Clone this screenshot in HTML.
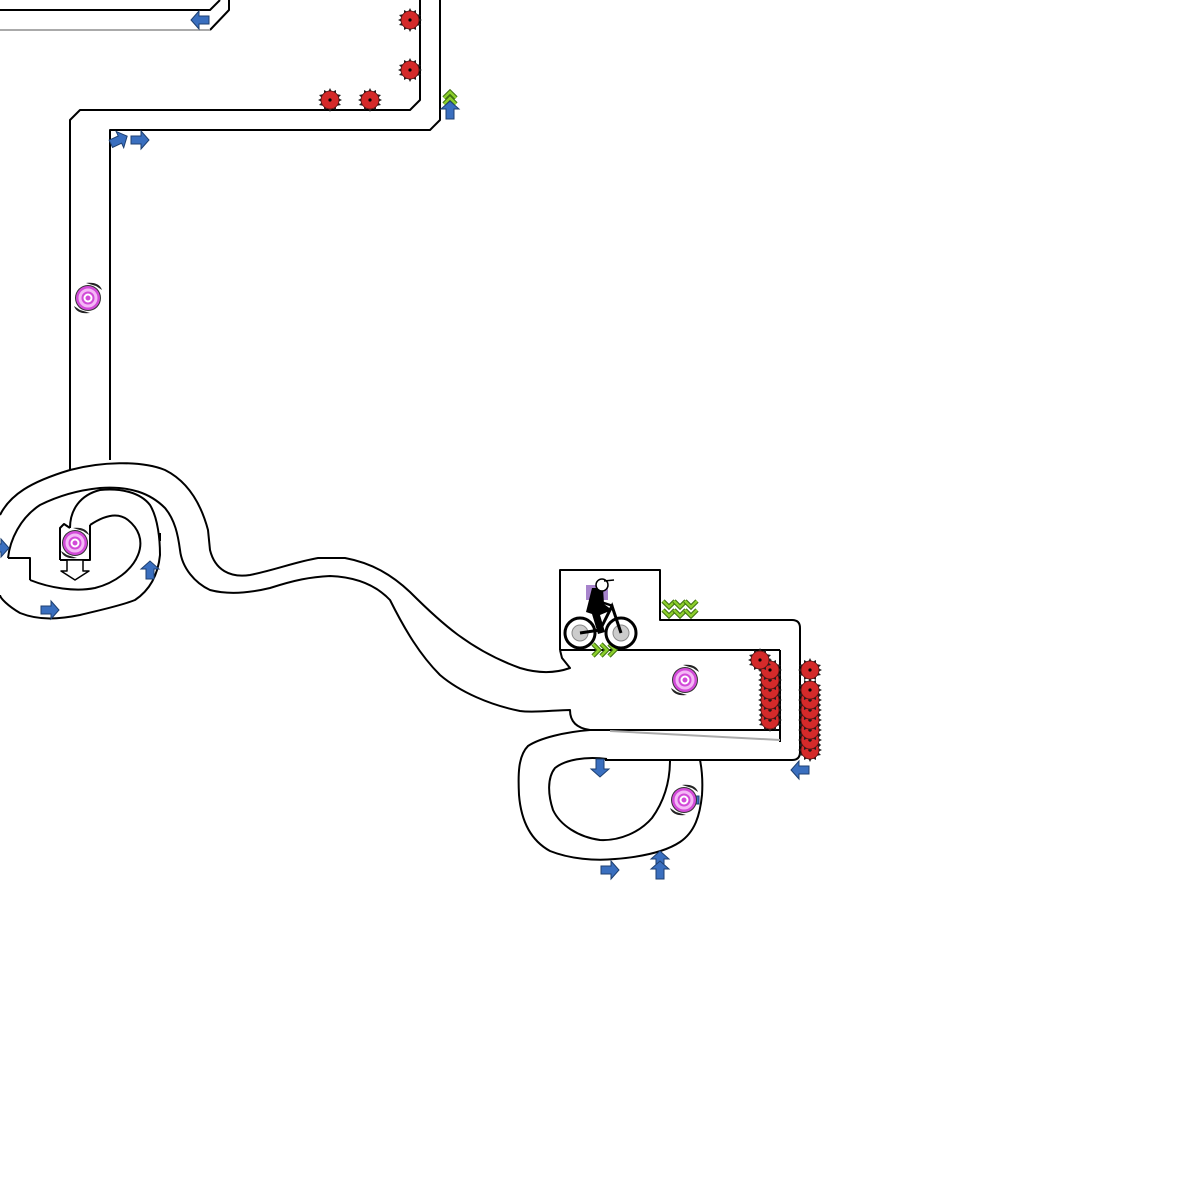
<!DOCTYPE html>
<html><head><meta charset="utf-8"><style>html,body{margin:0;padding:0;background:#fff}svg{display:block}</style></head>
<body>
<svg width="1200" height="1200" viewBox="0 0 1200 1200" xmlns="http://www.w3.org/2000/svg">
<defs>
  <g id="mine">
    <polygon points="0,-12 2,-8 6,-10 6,-6 11,-5 8,-2 12,0 8,2 11,5 6,6 6,10 2,8 0,12 -2,8 -6,10 -6,6 -11,5 -8,2 -12,0 -8,-2 -11,-5 -6,-6 -6,-10 -2,-8" fill="#222"/>
    <circle r="9" fill="#d42a2a" stroke="#511" stroke-width="0.8"/>
    <circle r="1.6" fill="#000"/>
  </g>
  <g id="arr">
    <polygon points="-9,-4 1,-4 1,-9 9,0 1,9 1,4 -9,4" fill="#3a6fbf" stroke="#1d3f70" stroke-width="1"/>
  </g>
  <g id="portal">
    <path d="M-2,-15 C6,-16 12,-14 14,-8 L8,-12 Z" fill="#222"/>
    <path d="M2,15 C-6,16 -12,14 -14,8 L-8,12 Z" fill="#222"/>
    <circle r="13" fill="#333"/>
    <circle r="12" fill="#d24ad8"/>
    <circle r="8" fill="none" stroke="#f4b8f6" stroke-width="3"/>
    <circle r="3.5" fill="none" stroke="#fff" stroke-width="2"/>
  </g>
  <g id="chev">
    <polyline points="-6,-3 0,3 6,-3" fill="none" stroke="#3b6d10" stroke-width="4.5"/>
    <polyline points="-6,-3 0,3 6,-3" fill="none" stroke="#8ccf2c" stroke-width="2.5"/>
  </g>
</defs>
<g fill="none" stroke="#000" stroke-width="2" stroke-linejoin="round">
  <polyline points="0,10 210,10 220,0"/>
  <polyline points="229,0 229,10 210,30" />
  <line x1="0" y1="30" x2="210" y2="30" stroke="#aaa"/>
  <polyline points="420,0 420,100 410,110 80,110 70,120 70,470"/>
  <polyline points="440,0 440,120 430,130 110,130 110,460"/>
  <path d="M0,515 C10,495 30,482 70,470 C100,462 140,460 165,470 C185,480 200,500 208,530 L210,550 C215,570 230,578 250,575 C275,570 295,562 318,558 L345,558 C372,563 392,575 410,592 C440,622 470,650 520,668 C540,674 556,673 570,668 L562,658 L560,650"/>
  <path d="M8,558 C10,540 20,518 40,505 C60,495 80,490 100,488 C130,486 150,493 165,508 C175,520 178,535 180,550 C182,568 195,583 210,590 C225,594 245,594 270,588 C295,580 310,577 330,576 C355,577 375,584 390,600 C405,630 420,655 440,675 C460,692 490,705 520,711 C535,713 555,710 570,710 C570,720 575,728 590,730 L780,730"/>
  <polyline points="8,558 30,558 30,580"/>
  <path d="M30,580 C50,588 75,592 95,588 C115,583 132,570 138,555 C144,540 138,528 128,520 C118,512 105,515 90,525"/>
  <path d="M70,528 C70,510 80,495 100,490 C120,488 140,492 150,505 C158,518 160,540 160,555 C158,575 150,590 135,600 C120,606 100,610 80,615 C60,619 40,621 20,613 C8,606 0,598 0,595"/>
  <line x1="160" y1="533" x2="160" y2="541"/>
  <polyline points="60,560 60,528 64,524 70,528"/>
  <polyline points="90,525 90,560 60,560"/>
  <polygon points="67,560 67,571 61,571 75,580 89,571 83,571 83,560" fill="#fff" stroke-width="1.5"/>
  <path d="M560,650 L560,570 L660,570 L660,620 L792,620 Q800,620 800,628 L800,752 Q800,760 792,760 L605,760"/>
  <line x1="560" y1="650" x2="780" y2="650"/>
  <line x1="780" y1="650" x2="780" y2="742"/>
  <line x1="610" y1="731" x2="780" y2="740" stroke="#aaa"/>
  <path d="M590,730 C565,732 540,738 528,746 C518,756 518,775 519,795 C521,820 530,840 550,851 C570,859 595,861 615,859 C640,857 665,852 680,842 C695,832 700,815 702,795 C703,780 702,770 700,760"/>
  <path d="M607,759 C585,756 565,760 555,768 C547,778 548,795 553,810 C560,825 578,837 600,840 C620,841 640,832 652,818 C665,800 670,780 670,760"/>
</g>
<use href="#mine" x="410" y="20"/><use href="#mine" x="410" y="70"/>
<use href="#mine" x="330" y="100"/><use href="#mine" x="370" y="100"/>
<use href="#mine" x="770" y="720"/><use href="#mine" x="770" y="710"/><use href="#mine" x="770" y="700"/>
<use href="#mine" x="770" y="690"/><use href="#mine" x="770" y="680"/><use href="#mine" x="770" y="670"/>
<use href="#mine" x="760" y="660"/>
<use href="#mine" x="810" y="750"/><use href="#mine" x="810" y="740"/><use href="#mine" x="810" y="730"/>
<use href="#mine" x="810" y="720"/><use href="#mine" x="810" y="710"/><use href="#mine" x="810" y="700"/>
<use href="#mine" x="810" y="690"/><use href="#mine" x="810" y="670"/>
<use href="#arr" transform="translate(200,20) rotate(180)"/>
<use href="#chev" transform="translate(450,95) rotate(180)"/>
<use href="#chev" transform="translate(450,101) rotate(180)"/>
<use href="#arr" transform="translate(450,110) rotate(-90)"/>
<use href="#arr" transform="translate(119,140) rotate(-25)"/>
<use href="#arr" transform="translate(140,140)"/>
<use href="#arr" transform="translate(0,548)"/>
<use href="#arr" transform="translate(50,610)"/>
<use href="#arr" transform="translate(150,570) rotate(-90)"/>
<use href="#arr" transform="translate(600,768) rotate(90)"/>
<use href="#arr" transform="translate(610,870)"/>
<use href="#arr" transform="translate(660,860) rotate(-90)"/>
<use href="#arr" transform="translate(660,870) rotate(-90)"/>
<use href="#arr" transform="translate(800,770) rotate(180)"/>
<rect x="694" y="796" width="5" height="8" fill="#3a6fbf" stroke="#1d3f70"/>
<use href="#portal" x="88" y="298"/><use href="#portal" x="75" y="543"/>
<use href="#portal" x="685" y="680"/><use href="#portal" x="684" y="800"/>
<use href="#chev" x="669" y="604"/><use href="#chev" x="680" y="604"/><use href="#chev" x="691" y="604"/>
<use href="#chev" x="669" y="613"/><use href="#chev" x="680" y="613"/><use href="#chev" x="691" y="613"/>
<use href="#chev" transform="translate(596,650) rotate(-90)"/>
<use href="#chev" transform="translate(604,650) rotate(-90)"/>
<use href="#chev" transform="translate(612,650) rotate(-90)"/>
<g>
  <rect x="586" y="585" width="22" height="15" fill="#a784cc"/>
  <circle cx="580" cy="633" r="15" fill="#fff" stroke="#000" stroke-width="3"/>
  <circle cx="580" cy="633" r="8" fill="#ccc" stroke="#888"/>
  <circle cx="621" cy="633" r="15" fill="#fff" stroke="#000" stroke-width="3"/>
  <circle cx="621" cy="633" r="8" fill="#ccc" stroke="#888"/>
  <polyline points="580,633 600,630 612,606 621,633" fill="none" stroke="#000" stroke-width="3"/>
  <polygon points="592,588 603,588 604,604 612,610 600,615 605,632 598,634 592,614 586,612" fill="#000"/>
  <circle cx="602" cy="585" r="6" fill="#fff" stroke="#000" stroke-width="1.5"/>
  <line x1="604" y1="581" x2="614" y2="580" stroke="#000" stroke-width="1.5"/>
  <line x1="601" y1="602" x2="613" y2="606" stroke="#000" stroke-width="2.5"/>
</g>
</svg>
</body></html>
